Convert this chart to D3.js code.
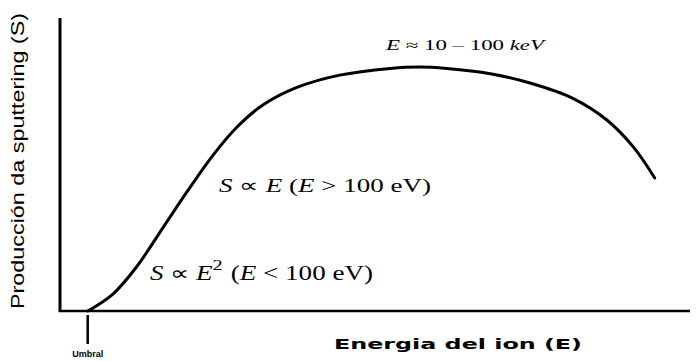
<!DOCTYPE html>
<meta charset="utf-8">
<head>
    <script src="https://d3js.org/d3.v7.min.js"></script>
</head>
<body style="margin:0; background:#fff;">
    <div id="svg_div"></div>
</body>
<script>
    // energy (arbitrary units) and sputtering yield (arbitrary units)
    var energia = [4.4, 8.4, 12.2, 16.3, 20.2, 24.3, 28.1, 32.2, 37.6, 44.4, 52.4, 57.0, 61.4, 68.3, 74.6, 81.4, 86.8, 91.0, 94.4];
    var rendimiento = [0, 5.8, 15.2, 28.3, 40.8, 53.2, 62.8, 70.3, 76.3, 80.5, 82.8, 83.3, 82.8, 81.0, 77.8, 72.6, 65.2, 56.0, 45.4];
    var umbral = 4.4;

    var width = 698, height = 361;
    var svg = d3.select("#svg_div").append("svg")
        .attr("width", width)
        .attr("height", height);

    var x = d3.scaleLinear().domain([0, 100]).range([60, 690]);
    var y = d3.scaleLinear().domain([0, 100]).range([311, 18]);

    // axes (no ticks, just the lines)
    svg.append("line")
        .attr("x1", x(0)).attr("x2", x(0))
        .attr("y1", y(0) + 1).attr("y2", y(100))
        .attr("stroke", "#000").attr("stroke-width", 3);
    svg.append("line")
        .attr("x1", x(0) - 1).attr("x2", x(100))
        .attr("y1", y(0)).attr("y2", y(0))
        .attr("stroke", "#000").attr("stroke-width", 2.5);

    // threshold tick
    svg.append("line")
        .attr("x1", x(umbral)).attr("x2", x(umbral))
        .attr("y1", y(0) + 4).attr("y2", y(0) + 33)
        .attr("stroke", "#000").attr("stroke-width", 2.5);
    svg.append("text")
        .attr("x", x(umbral)).attr("y", 357)
        .attr("text-anchor", "middle")
        .style("font-family", "Liberation Sans, Arial, sans-serif")
        .style("font-size", "9px").style("font-weight", "bold")
        .text("Umbral");

    // yield curve
    var pts = energia.map(function (e, i) { return [e, rendimiento[i]]; });
    var line = d3.line()
        .x(function (d) { return x(d[0]); })
        .y(function (d) { return y(d[1]); })
        .curve(d3.curveCatmullRom.alpha(0.5));
    svg.append("path")
        .datum(pts)
        .attr("d", line)
        .attr("fill", "none")
        .attr("stroke", "#000")
        .attr("stroke-width", 3)
        .attr("stroke-linecap", "round");

    // axis titles
    svg.append("text")
        .attr("transform", "translate(24,161) rotate(-90)")
        .attr("text-anchor", "middle")
        .attr("textLength", 296)
        .attr("lengthAdjust", "spacingAndGlyphs")
        .style("font-family", "Liberation Sans, Arial, sans-serif")
        .style("font-size", "18px")
        .text("Producción da sputtering (S)");
    svg.append("text")
        .attr("x", 334).attr("y", 349)
        .attr("textLength", 248)
        .attr("lengthAdjust", "spacingAndGlyphs")
        .style("font-family", "DejaVu Sans, sans-serif")
        .style("font-size", "14px").style("font-weight", "bold")
        .text("Energia del ion (E)");

    // region annotations
    var serif = "Liberation Serif, Times New Roman, serif";
    var t1 = svg.append("text")
        .attr("x", 386).attr("y", 50)
        .attr("textLength", 158)
        .attr("lengthAdjust", "spacingAndGlyphs")
        .style("font-family", serif).style("font-size", "14px");
    t1.append("tspan").style("font-style", "italic").text("E");
    t1.append("tspan").text(" ≈ 10 – 100 ");
    t1.append("tspan").style("font-style", "italic").text("keV");

    var t2 = svg.append("text")
        .attr("x", 219).attr("y", 192)
        .attr("textLength", 212)
        .attr("lengthAdjust", "spacingAndGlyphs")
        .style("font-family", serif).style("font-size", "19px");
    t2.append("tspan").style("font-style", "italic").text("S");
    t2.append("tspan").text(" ∝ ");
    t2.append("tspan").style("font-style", "italic").text("E");
    t2.append("tspan").text(" (");
    t2.append("tspan").style("font-style", "italic").text("E");
    t2.append("tspan").text(" > 100 eV)");

    var t3 = svg.append("text")
        .attr("x", 150).attr("y", 280)
        .attr("textLength", 223)
        .attr("lengthAdjust", "spacingAndGlyphs")
        .style("font-family", serif).style("font-size", "20px");
    t3.append("tspan").style("font-style", "italic").text("S");
    t3.append("tspan").text(" ∝ ");
    t3.append("tspan").style("font-style", "italic").text("E");
    t3.append("tspan").attr("dy", -10).style("font-size", "15px").text("2");
    t3.append("tspan").attr("dy", 10).attr("dx", 6).text("(");
    t3.append("tspan").style("font-style", "italic").text("E");
    t3.append("tspan").text(" < 100 eV)");
</script>
